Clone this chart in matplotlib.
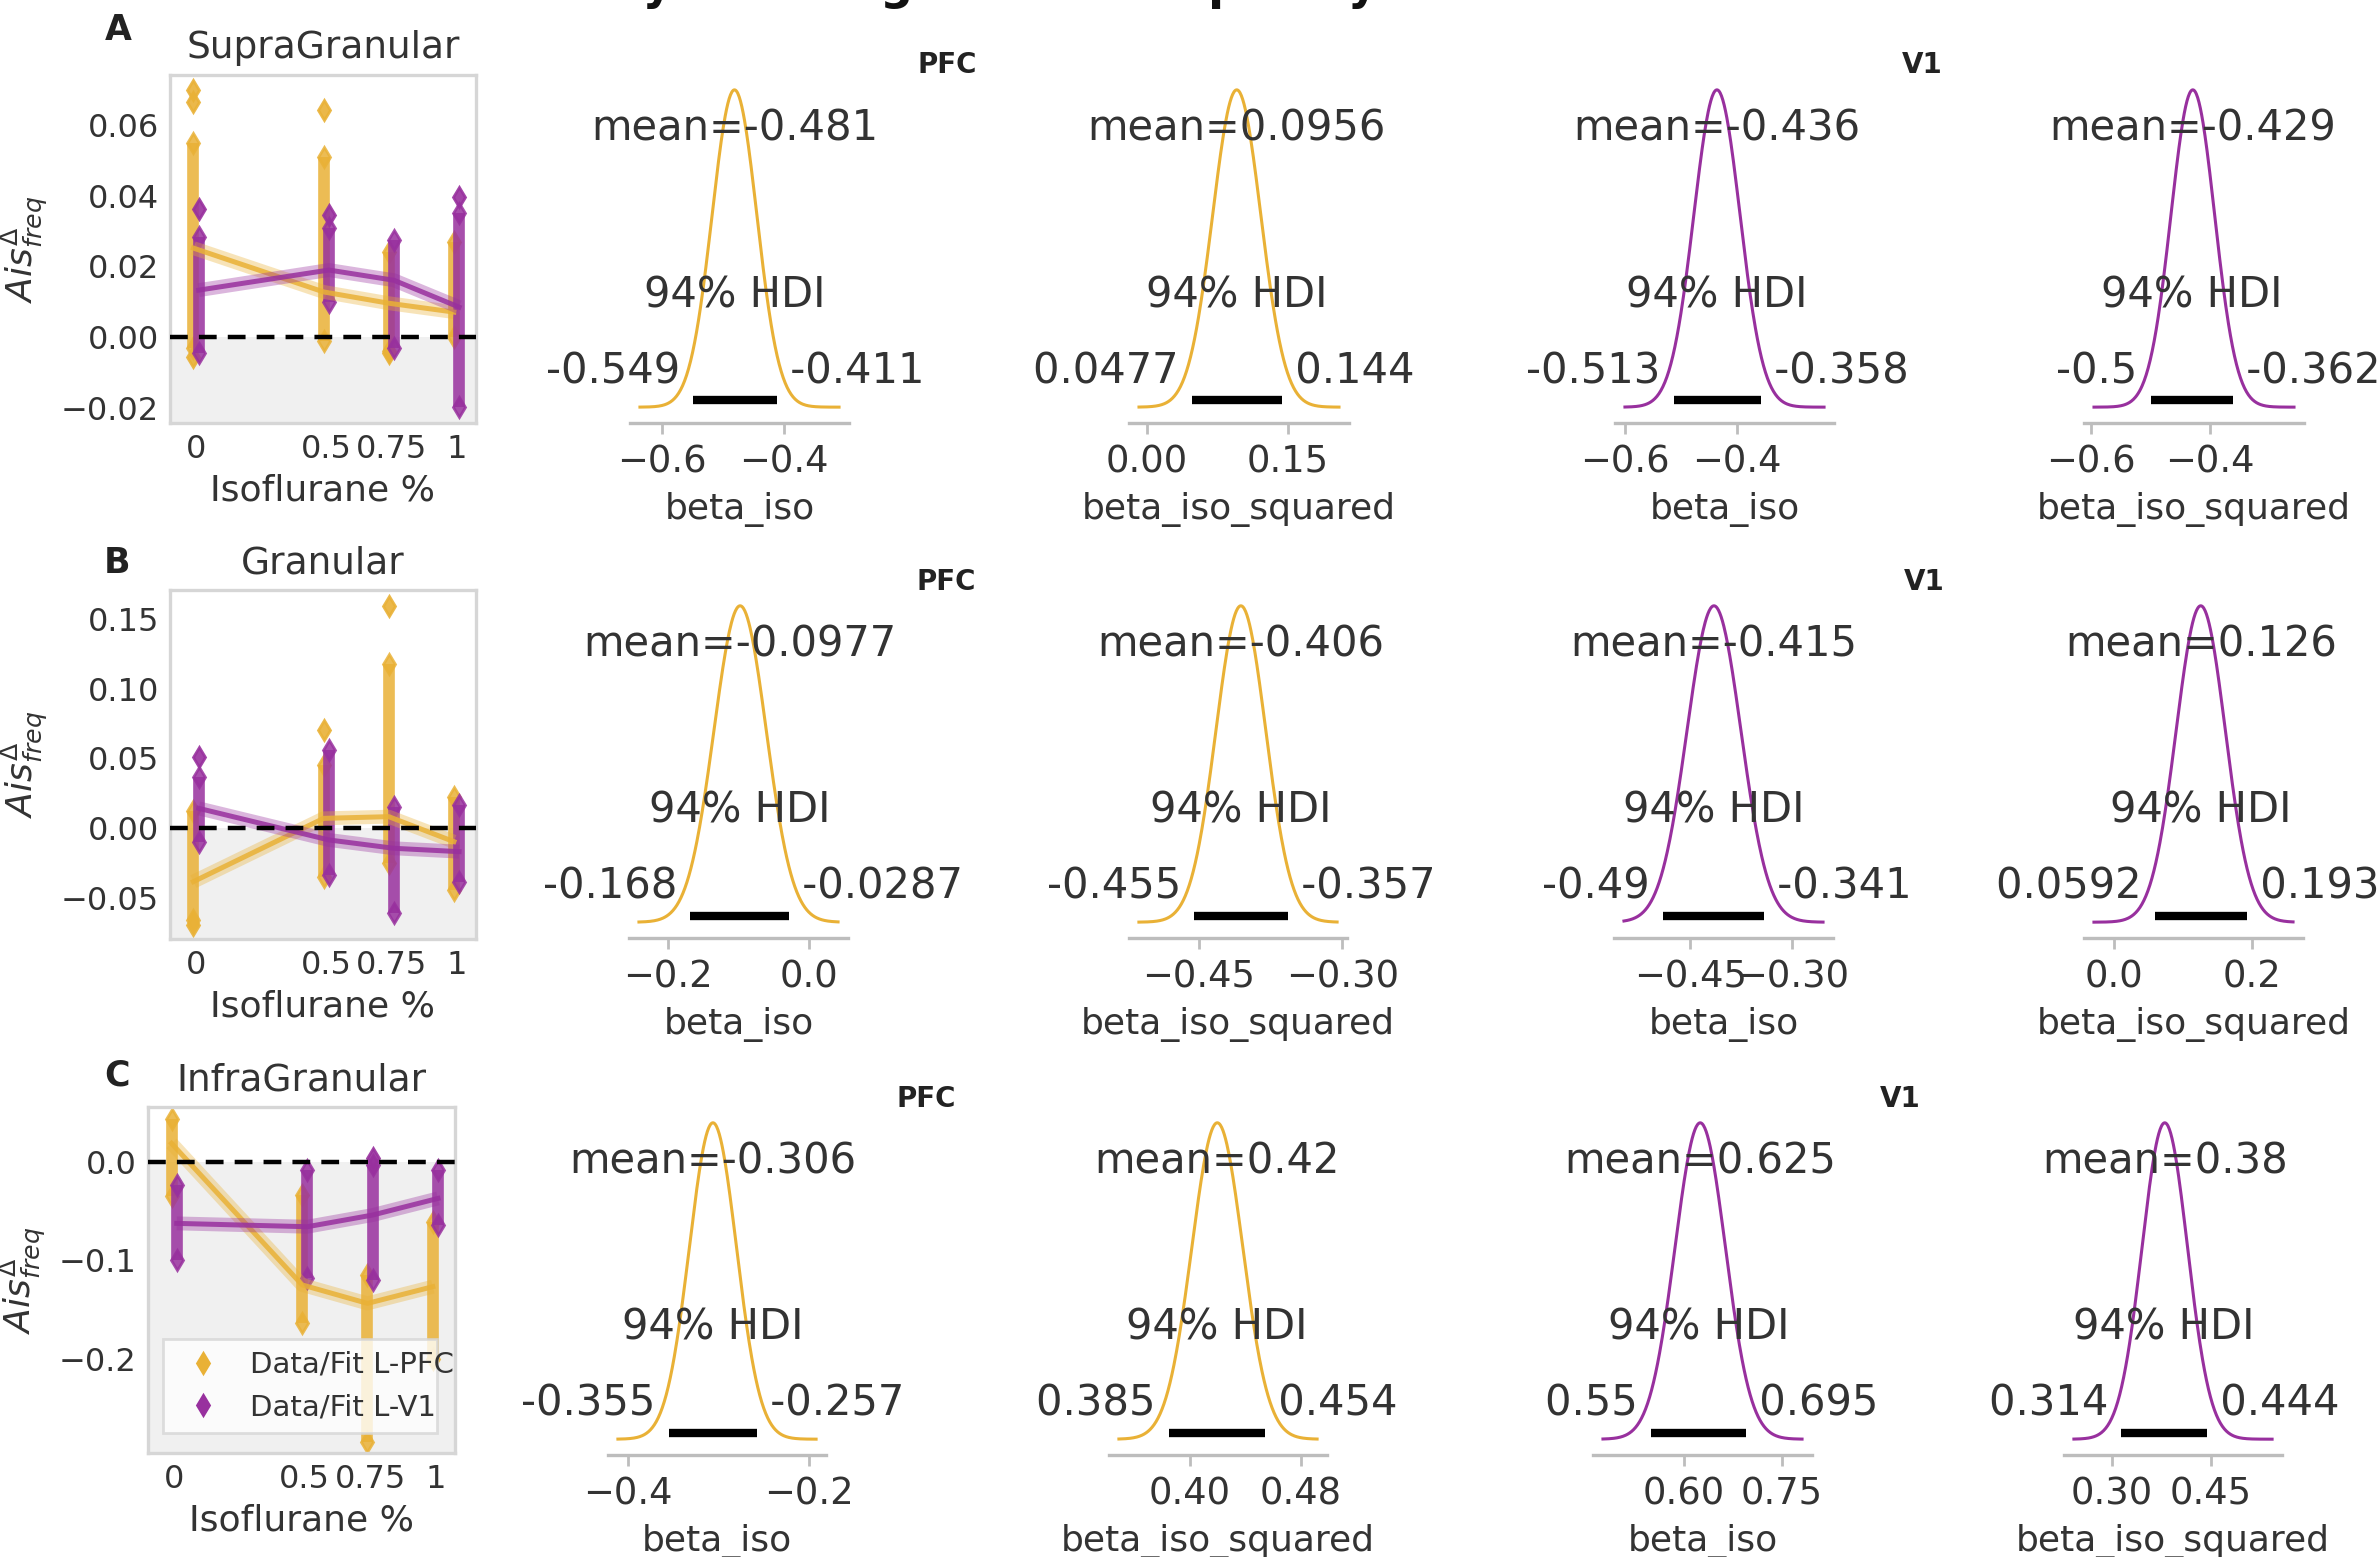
import numpy as np
import matplotlib.pyplot as plt

W, H, DPI = 2379, 1557, 200

ORANGE = "#E9B136"
PURPLE = "#98309E"
TXT = "#333333"

# ---- left panels: data columns per isoflurane level ----
iso_levels = [0, 0.5, 0.75, 1]
iso_ticklabels = ["0", "0.5", "0.75", "1"]
layers = ["SupraGranular", "Granular", "InfraGranular"]
panel_letters = ["A", "B", "C"]

# dense part of each data column (low, high) and lone points
supra_pfc_lo = [-0.003, -0.001, -0.004, 0.000]
supra_pfc_hi = [0.055, 0.051, 0.024, 0.027]
supra_pfc_out = [[0.070, 0.0666, -0.0056], [0.0642], [-0.0046], []]
supra_v1_lo = [-0.0046, 0.010, -0.0032, -0.0197]
supra_v1_hi = [0.0284, 0.031, 0.0275, 0.035]
supra_v1_out = [[0.0364], [0.0345], [], [0.0397]]
supra_pfc_fit = [0.0252, 0.0128, 0.0096, 0.0071]
supra_v1_fit = [0.0133, 0.0190, 0.0161, 0.0085]

gran_pfc_lo = [-0.066, -0.035, -0.025, -0.0445]
gran_pfc_hi = [0.012, 0.045, 0.118, 0.0225]
gran_pfc_out = [[-0.0696], [0.0703], [0.159], []]
gran_v1_lo = [-0.0098, -0.0337, -0.0612, -0.0385]
gran_v1_hi = [0.0368, 0.056, 0.0153, 0.0165]
gran_v1_out = [[0.0512], [], [], []]
gran_pfc_fit = [-0.0385, 0.0069, 0.0081, -0.0098]
gran_v1_fit = [0.0141, -0.0086, -0.0146, -0.0170]

infra_pfc_lo = [-0.035, -0.164, -0.2845, -0.200]
infra_pfc_hi = [0.044, -0.0336, -0.115, -0.0607]
infra_pfc_out = [[], [], [], []]
infra_v1_lo = [-0.0997, -0.118, -0.120, -0.064]
infra_v1_hi = [-0.0234, -0.0081, -0.003, -0.008]
infra_v1_out = [[], [], [0.0037], []]
infra_pfc_fit = [0.019, -0.125, -0.1438, -0.1268]
infra_v1_fit = [-0.0624, -0.0658, -0.0539, -0.0370]

left_yticks = [[-0.02, 0.0, 0.02, 0.04, 0.06],
               [-0.05, 0.0, 0.05, 0.10, 0.15],
               [-0.2, -0.1, 0.0]]
left_ylims = [(-0.0243, 0.0742), (-0.0797, 0.1708), (-0.296, 0.056)]

# ---- posterior panels ----
post_vars = ["beta_iso", "beta_iso_squared", "beta_iso", "beta_iso_squared"]
post_means = [[-0.481, 0.0956, -0.436, -0.429],
              [-0.0977, -0.406, -0.415, 0.126],
              [-0.306, 0.42, 0.625, 0.38]]
post_hdi_lo = [[-0.549, 0.0477, -0.513, -0.5],
               [-0.168, -0.455, -0.49, 0.0592],
               [-0.355, 0.385, 0.55, 0.314]]
post_hdi_hi = [[-0.411, 0.144, -0.358, -0.362],
               [-0.0287, -0.357, -0.341, 0.193],
               [-0.257, 0.454, 0.695, 0.444]]
post_ticks = [[[-0.6, -0.4], [0.0, 0.15], [-0.6, -0.4], [-0.6, -0.4]],
              [[-0.2, 0.0], [-0.45, -0.30], [-0.45, -0.30], [0.0, 0.2]],
              [[-0.4, -0.2], [0.40, 0.48], [0.60, 0.75], [0.30, 0.45]]]
post_xlims = [[(-0.6525, -0.293), (-0.019, 0.215), (-0.618, -0.227), (-0.612, -0.242)],
              [(-0.255, 0.055), (-0.523, -0.295), (-0.562, -0.240), (-0.043, 0.274)],
              [(-0.422, -0.181), (0.342, 0.499), (0.461, 0.796), (0.227, 0.558)]]
post_colors = [ORANGE, ORANGE, PURPLE, PURPLE]

# ---- layout in pixels (left, right, top, bottom) ----
left_boxes = [(170, 476, 75, 423), (170, 476, 590, 939), (148, 455, 1107, 1453)]
row_tb = [(74, 423), (590, 938), (1107, 1455)]
col_lr = [[(630, 849), (1129, 1349), (1615, 1834), (2084, 2304)],
          [(629, 848), (1129, 1347), (1614, 1833), (2084, 2303)],
          [(608, 826), (1109, 1327), (1593, 1812), (2064, 2282)]]
region_label_xy = [[(947, 65), (1922, 65)], [(946, 582), (1924, 582)], [(926, 1099), (1900, 1099)]]
letter_xy = [(118, 30), (117, 563), (117, 1075)]


def rect(l, r, t, b):
    return [l / W, 1 - b / H, (r - l) / W, (b - t) / H]


plt.rcParams.update({
    "font.family": "DejaVu Sans",
    "text.color": TXT,
    "axes.labelcolor": TXT,
    "xtick.color": TXT,
    "ytick.color": TXT,
})

fig = plt.figure(figsize=(W / DPI, H / DPI), dpi=DPI)

# title sits mostly above the canvas, as in the original
fig.text(0.5, 1 + 1.5 / H, "Bayesian regression frequency 32.15 - 92.37Hz",
         ha="center", va="baseline", fontsize=16.5, fontweight="bold", color="#111111")

left_data = [
    (supra_pfc_lo, supra_pfc_hi, supra_pfc_out, supra_v1_lo, supra_v1_hi, supra_v1_out, supra_pfc_fit, supra_v1_fit),
    (gran_pfc_lo, gran_pfc_hi, gran_pfc_out, gran_v1_lo, gran_v1_hi, gran_v1_out, gran_pfc_fit, gran_v1_fit),
    (infra_pfc_lo, infra_pfc_hi, infra_pfc_out, infra_v1_lo, infra_v1_hi, infra_v1_out, infra_pfc_fit, infra_v1_fit),
]

for i, (pl, ph, po, vl, vh, vo, pf, vf) in enumerate(left_data):
    ax = fig.add_axes(rect(*left_boxes[i]))
    ylo, yhi = left_ylims[i]
    ax.axhspan(ylo, 0, color="#f0f0f0", zorder=0, lw=0)

    for lo, hi, out, col, dx in [(pl, ph, po, ORANGE, -0.01), (vl, vh, vo, PURPLE, 0.01)]:
        xs = np.array(iso_levels) + dx
        ax.vlines(xs, lo, hi, color=col, lw=4.2, alpha=0.85, zorder=2)
        ax.plot(xs, lo, "d", color=col, ms=5, alpha=0.85, zorder=2)
        ax.plot(xs, hi, "d", color=col, ms=5, alpha=0.85, zorder=2)
        for x, pts in zip(xs, out):
            if pts:
                ax.plot([x] * len(pts), pts, "d", color=col, ms=5, alpha=0.9, zorder=2)

    for fit, col, dx in [(pf, ORANGE, -0.01), (vf, PURPLE, 0.01)]:
        xs = np.array(iso_levels) + dx
        ax.plot(xs, fit, color=col, lw=5, alpha=0.35, zorder=3, solid_capstyle="butt")
        ax.plot(xs, fit, color=col, lw=1.8, alpha=0.85, zorder=3)

    ax.axhline(0, color="black", ls="--", lw=1.6, dashes=(4, 2.5), zorder=4)

    ax.set_xlim(-0.1, 1.075)
    ax.set_ylim(ylo, yhi)
    ax.set_xticks(iso_levels)
    ax.set_xticklabels(iso_ticklabels)
    ax.set_yticks(left_yticks[i])
    ax.tick_params(length=0, labelsize=11.5)
    ax.tick_params(axis="x", pad=4)
    ax.tick_params(axis="y", pad=4)
    for s in ax.spines.values():
        s.set_color("#d6d6d6")
        s.set_linewidth(1.2)
    ax.set_xlabel("Isoflurane %", fontsize=13, labelpad=3)
    ax.set_ylabel(r"$Ais^{\Delta}_{freq}$", fontsize=13, labelpad=4)
    ax.set_title(layers[i], fontsize=13.5, pad=6)

    lx, ly = letter_xy[i]
    fig.text(lx / W, 1 - ly / H, panel_letters[i], ha="center", va="center",
             fontsize=12.5, fontweight="bold", color="#222222")

    if i == 2:
        h1, = ax.plot([], [], "d", color=ORANGE, ms=5, label="Data/Fit L-PFC")
        h2, = ax.plot([], [], "d", color=PURPLE, ms=5, label="Data/Fit L-V1")
        ax.legend(handles=[h1, h2], loc="lower left", mode="expand",
                  bbox_to_anchor=(0.0, 0.015, 0.99, 0.3), fontsize=10.5,
                  handlelength=2, handletextpad=0.6, borderpad=0.4,
                  edgecolor="#d6d6d6", fancybox=False)

# ---- posterior densities ----
for r in range(3):
    t, b = row_tb[r]
    for c in range(4):
        l, rr = col_lr[r][c]
        ax = fig.add_axes(rect(l, rr, t, b))
        x0, x1 = post_xlims[r][c]
        pad = 0.05 * (x1 - x0) / 1.1
        mean = post_means[r][c]
        lo, hi = post_hdi_lo[r][c], post_hdi_hi[r][c]
        sd = (hi - lo) / (2 * 1.8808)
        xs = np.linspace(x0 + pad, x1 - pad, 300)
        dens = np.exp(-0.5 * ((xs - mean) / sd) ** 2) / (sd * np.sqrt(2 * np.pi))
        pk = dens.max()
        col = post_colors[c]
        ax.plot(xs, dens, color=col, lw=1.1)
        ymax = 1.05 * pk
        ax.set_xlim(x0, x1)
        ax.set_ylim(-0.05 * pk, ymax)

        ax.plot([lo, hi], [ymax * 0.02] * 2, color="black", lw=3.0, solid_capstyle="butt")
        fs = 15
        ax.text(lo, ymax * 0.07, f"{lo:.3g} ", ha="right", fontsize=fs)
        ax.text(hi, ymax * 0.07, f" {hi:.3g}", ha="left", fontsize=fs)
        ax.text((lo + hi) / 2, ymax * 0.3, "94% HDI", ha="center", fontsize=fs)
        ax.text(mean, ymax * 0.8, f"mean={mean:.3g}", ha="center", fontsize=fs)

        for s in ["left", "right", "top"]:
            ax.spines[s].set_visible(False)
        ax.spines["bottom"].set_color("#bdbdbd")
        ax.spines["bottom"].set_linewidth(1.2)
        ax.set_yticks([])
        ax.set_xticks(post_ticks[r][c])
        ax.tick_params(axis="x", colors="#bdbdbd", labelcolor=TXT, labelsize=13.3,
                       length=4, width=1)
        ax.set_xlabel(post_vars[c], fontsize=13, labelpad=4)
        ax.patch.set_alpha(0)

    for (px, py), name in zip(region_label_xy[r], ["PFC", "V1"]):
        fig.text(px / W, 1 - py / H, name, ha="center", va="center",
                 fontsize=10, fontweight="bold", color="#222222")

fig.savefig("out.png", dpi=DPI)
